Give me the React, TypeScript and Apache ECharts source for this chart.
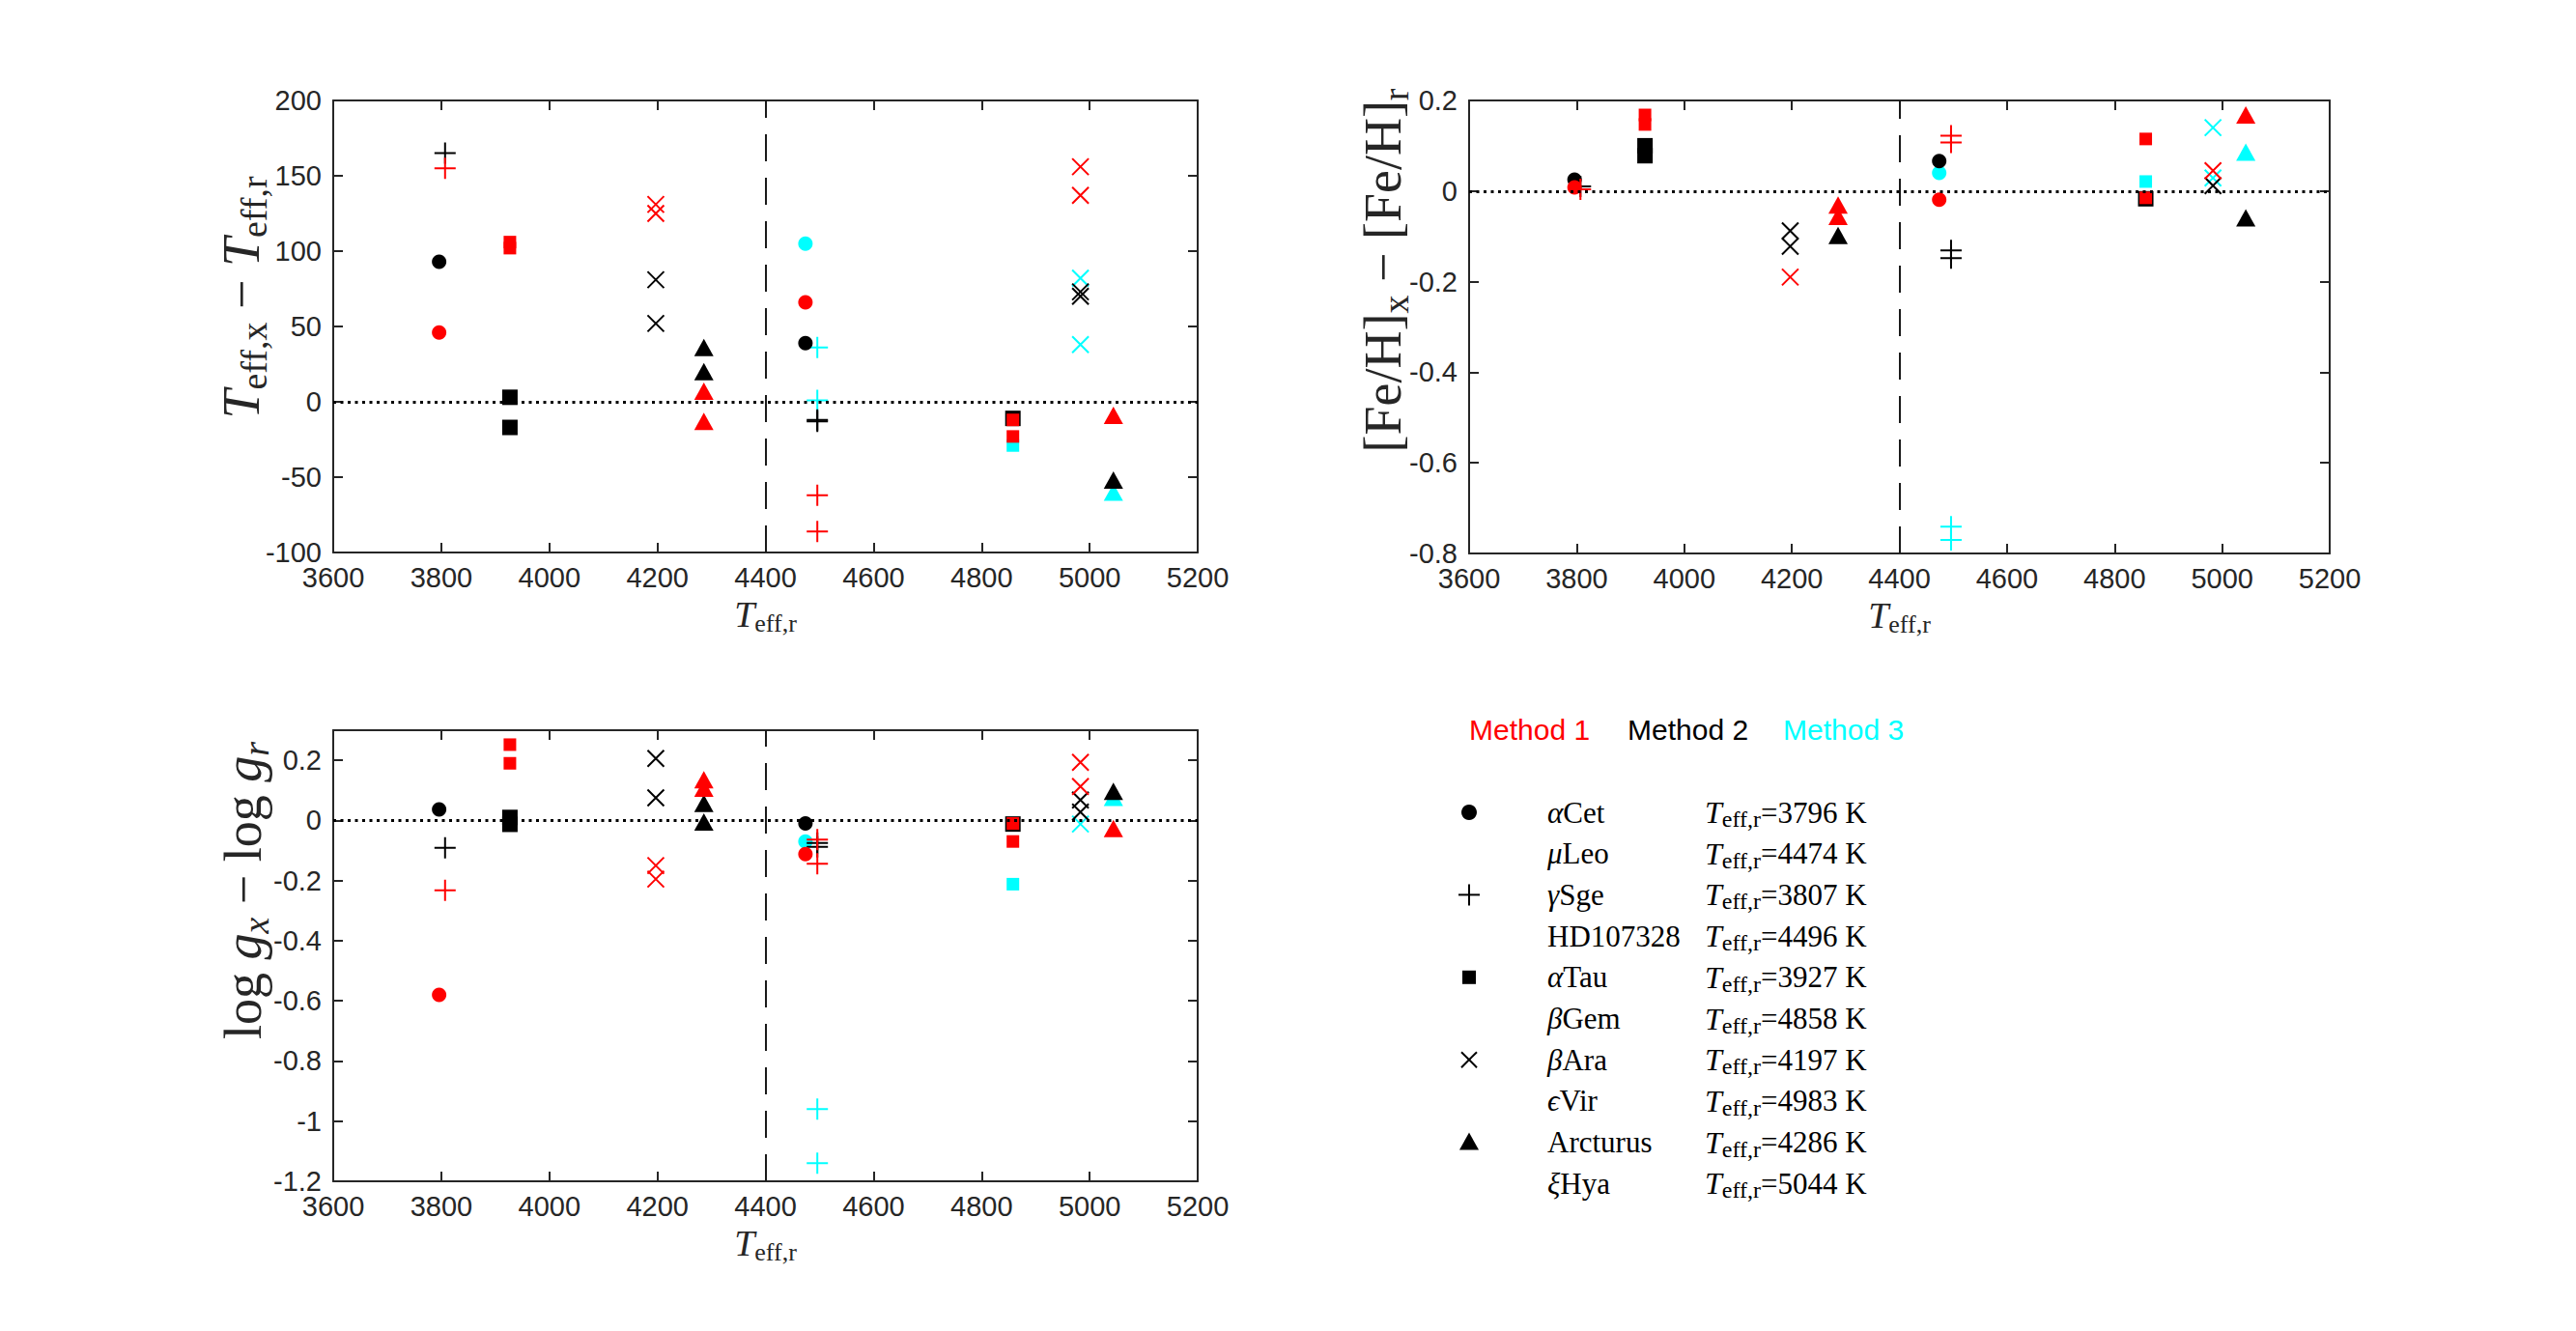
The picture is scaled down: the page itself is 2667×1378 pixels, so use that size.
import React, { useEffect, useRef } from 'react';
import * as echarts from 'echarts';

// ---------- data ----------
const starGreek = ['α', 'μ', 'γ', '', 'α', 'β', 'β', 'ϵ', '', 'ξ'];
const starBase = ['Cet', 'Leo', 'Sge', 'HD107328', 'Tau', 'Gem', 'Ara', 'Vir', 'Arcturus', 'Hya'];
const teffRef = [3796, 4474, 3807, 4496, 3927, 4858, 4197, 4983, 4286, 5044];
const starMarker = ['circle', 'circle', 'plus', 'plus', 'square', 'square', 'cross', 'cross', 'triangle', 'triangle'];

const methodNames = ['Method 1', 'Method 2', 'Method 3'];

const xMin = 3600;
const xMax = 5200;
const xStep = 200;
const teffSplit = 4400;

// Panel 1: Teff,x - Teff,r (per star, per method)
const dTeffM1 = [[46], [66], [155], [-62, -86], [106, 102], [-12, -23], [131, 125], [156, 137], [7, -13], [-9]];
const dTeffM2 = [[93], [39], [165], [-12, -13], [3, -17], [-11], [81, 52], [73, 70], [36, 20], [-52]];
const dTeffM3 = [[], [105], [], [36, 1], [], [-29], [], [82, 38], [], [-60]];

// Panel 2: [Fe/H]x - [Fe/H]r
const feM1 = [[0.008], [-0.019], [0.004], [0.122, 0.107], [0.168, 0.147], [0.115, -0.015], [-0.19], [0.045], [-0.031, -0.056], [0.168]];
const feM2 = [[0.025], [0.066], [0.01], [-0.131, -0.148], [0.1, 0.078], [-0.017], [-0.088, -0.122], [0.012], [-0.098], [-0.059]];
const feM3 = [[], [0.04], [], [-0.741, -0.77], [], [0.021], [], [0.14, 0.029], [], [0.086]];

// Panel 3: log gx - log gr
const loggM1 = [[-0.58], [-0.112], [-0.232], [-0.064, -0.144], [0.252, 0.19], [-0.01, -0.07], [-0.15, -0.195], [0.193, 0.113], [0.135, 0.107], [-0.027]];
const loggM2 = [[0.037], [-0.01], [-0.091], [-0.075, -0.088], [0.01, -0.013], [-0.012], [0.206, 0.075], [0.068, 0.028], [0.057, -0.005], [0.097]];
const loggM3 = [[], [-0.07], [], [-0.96, -1.14], [], [-0.212], [], [-0.012], [], [0.077]];

const panelValues = [
  [dTeffM1, dTeffM2, dTeffM3],
  [feM1, feM2, feM3],
  [loggM1, loggM2, loggM3],
];
const panelYRange = [
  [-100, 200, 50],
  [-0.8, 0.2, 0.2],
  [-1.2, 0.3, 0.2],
];

// ---------- style ----------
const methodColors = ['#ff0000', '#000000', '#00ffff'];
const drawOrder = [2, 1, 0];
const axisColor = '#262626';
const sans = "'Liberation Sans', Arial, Helvetica, sans-serif";
const serif = "'Liberation Serif', 'DejaVu Serif', 'Times New Roman', serif";

const grids = [
  { left: 345, top: 104, width: 895, height: 468 },
  { left: 1521, top: 104, width: 891, height: 469 },
  { left: 345, top: 756, width: 895, height: 467 },
];

const yTitles = [
  { text: '{i|T}{s|eff,x}{n| − }{i|T}{s|eff,r}', x: 250, y: 308 },
  { text: '{n|[Fe/H]}{s|x}{n| − [Fe/H]}{s|r}', x: 1432, y: 280 },
  { text: '{n|log }{i|g}{si|x}{n| − log }{i|g}{si|r}', x: 252, y: 922 },
];

const yTitleRich = {
  i: { fontFamily: serif, fontStyle: 'italic', fontSize: 54, fill: axisColor },
  n: { fontFamily: serif, fontSize: 54, fill: axisColor },
  s: { fontFamily: serif, fontSize: 38, padding: [26, 0, 0, 0], fill: axisColor },
  si: { fontFamily: serif, fontStyle: 'italic', fontSize: 38, padding: [26, 0, 0, 0], fill: axisColor },
};

function markerItem(shape: string, color: string, x: number, y: number) {
  switch (shape) {
    case 'circle':
      return { value: [x, y], symbol: 'circle', symbolSize: 15, itemStyle: { color, opacity: 1 } };
    case 'square':
      return { value: [x, y], symbol: 'rect', symbolSize: color === '#000000' ? 16 : 13, itemStyle: { color, opacity: 1 } };
    case 'triangle':
      return { value: [x, y], symbol: 'triangle', symbolSize: [20, 18], itemStyle: { color, opacity: 1 } };
    case 'plus':
      return {
        value: [x, y], symbol: 'path://M0,10L20,10M10,0L10,20', symbolSize: 22,
        itemStyle: { color: 'none', borderColor: color, borderWidth: 2, opacity: 1 },
      };
    default:
      return {
        value: [x, y], symbol: 'path://M0,0L20,20M20,0L0,20', symbolSize: 17,
        itemStyle: { color: 'none', borderColor: color, borderWidth: 2, opacity: 1 },
      };
  }
}

function fmt(v: number) {
  return String(Math.round(v * 1000) / 1000);
}

function buildOption() {
  const xAxis: any[] = [];
  const yAxis: any[] = [];
  const series: any[] = [];
  const common = {
    type: 'value',
    splitLine: { show: false },
    axisLine: { show: true, onZero: false, lineStyle: { color: axisColor, width: 2 } },
    axisTick: { show: true, inside: true, length: 10, lineStyle: { color: axisColor, width: 2 } },
  };
  grids.forEach((_, g) => {
    const [ymin, ymax, ystep] = panelYRange[g];
    xAxis.push({
      ...common, gridIndex: g, position: 'bottom', min: xMin, max: xMax, interval: xStep,
      axisLabel: { fontSize: 29, fontFamily: sans, color: axisColor, margin: 11, formatter: (v: number) => String(v) },
      name: '{i|T}{s|eff,r}', nameLocation: 'middle', nameGap: 42,
      nameTextStyle: {
        color: axisColor,
        rich: {
          i: { fontFamily: serif, fontStyle: 'italic', fontSize: 38, color: axisColor },
          s: { fontFamily: serif, fontSize: 26, padding: [18, 0, 0, 0], color: axisColor },
        },
      },
    });
    xAxis.push({
      ...common, gridIndex: g, position: 'top', min: xMin, max: xMax, interval: xStep,
      axisLabel: { show: false },
    });
    yAxis.push({
      ...common, gridIndex: g, position: 'left', min: ymin, max: ymax, interval: ystep,
      axisLabel: {
        fontSize: 29, fontFamily: sans, color: axisColor, margin: 12,
        formatter: fmt, showMaxLabel: g === 2 ? false : true,
      },
    });
    yAxis.push({
      ...common, gridIndex: g, position: 'right', min: ymin, max: ymax, interval: ystep,
      axisLabel: { show: false },
    });

    // reference lines
    series.push({
      type: 'scatter', xAxisIndex: 2 * g, yAxisIndex: 2 * g, data: [], z: 1, silent: true,
      markLine: {
        silent: true, symbol: 'none', animation: false, label: { show: false },
        data: [
          { xAxis: teffSplit, lineStyle: { color: '#1a1a1a', width: 2, type: [28, 17] } },
          { yAxis: 0, lineStyle: { color: '#000', width: 3, type: [3, 4.5] } },
        ],
      },
    });

    drawOrder.forEach((m) => {
      const vals = panelValues[g][m];
      const data: any[] = [];
      vals.forEach((list, s) => {
        list.forEach((v) => data.push(markerItem(starMarker[s], methodColors[m], teffRef[s], v)));
      });
      series.push({
        type: 'scatter', name: methodNames[m], xAxisIndex: 2 * g, yAxisIndex: 2 * g,
        data, z: 3, silent: true, itemStyle: { opacity: 1 },
      });
    });
  });

  // graphic: y titles + legend
  const graphic: any[] = [];
  yTitles.forEach((t) => {
    graphic.push({
      type: 'text', x: t.x, y: t.y, rotation: Math.PI / 2,
      style: { text: t.text, rich: yTitleRich, align: 'center', verticalAlign: 'middle', fill: axisColor },
    });
  });

  const methodX = [1521, 1685, 1846];
  methodNames.forEach((name, m) => {
    graphic.push({
      type: 'text', x: methodX[m], y: 755,
      style: { text: name, fontFamily: sans, fontSize: 30, fill: methodColors[m], align: 'left', verticalAlign: 'middle' },
    });
  });

  const rowY0 = 841;
  const rowStep = 42.7;
  const legRich = {
    g: { fontFamily: serif, fontStyle: 'italic', fontSize: 31, fill: '#000' },
    r: { fontFamily: serif, fontSize: 31, fill: '#000' },
    i: { fontFamily: serif, fontStyle: 'italic', fontSize: 32, fill: '#000' },
    s: { fontFamily: serif, fontSize: 24, padding: [14, 0, 0, 0], fill: '#000' },
  };
  starBase.forEach((base, k) => {
    const cy = rowY0 + k * rowStep;
    const cx = 1521;
    const shape = starMarker[k];
    if (k === 0 || starMarker[k - 1] !== shape) {
      if (shape === 'circle') {
        graphic.push({ type: 'circle', shape: { cx, cy, r: 8 }, style: { fill: '#000' } });
      } else if (shape === 'square') {
        graphic.push({ type: 'rect', shape: { x: cx - 7, y: cy - 7, width: 14, height: 14 }, style: { fill: '#000' } });
      } else if (shape === 'triangle') {
        graphic.push({ type: 'polygon', shape: { points: [[cx, cy - 10], [cx + 10, cy + 8], [cx - 10, cy + 8]] }, style: { fill: '#000' } });
      } else if (shape === 'plus') {
        graphic.push({ type: 'line', shape: { x1: cx - 11, y1: cy, x2: cx + 11, y2: cy }, style: { stroke: '#000', lineWidth: 2 } });
        graphic.push({ type: 'line', shape: { x1: cx, y1: cy - 11, x2: cx, y2: cy + 11 }, style: { stroke: '#000', lineWidth: 2 } });
      } else {
        graphic.push({ type: 'line', shape: { x1: cx - 8, y1: cy - 8, x2: cx + 8, y2: cy + 8 }, style: { stroke: '#000', lineWidth: 2 } });
        graphic.push({ type: 'line', shape: { x1: cx - 8, y1: cy + 8, x2: cx + 8, y2: cy - 8 }, style: { stroke: '#000', lineWidth: 2 } });
      }
    }
    const nameText = (starGreek[k] ? `{g|${starGreek[k]}}` : '') + `{r|${base}}`;
    graphic.push({
      type: 'text', x: 1602, y: cy,
      style: { text: nameText, rich: legRich, align: 'left', verticalAlign: 'middle' },
    });
    graphic.push({
      type: 'text', x: 1765, y: cy,
      style: { text: `{i|T}{s|eff,r}{r|=${teffRef[k]} K}`, rich: legRich, align: 'left', verticalAlign: 'middle' },
    });
  });

  return {
    animation: false,
    backgroundColor: '#ffffff',
    grid: grids.map((g) => ({ ...g, containLabel: false })),
    xAxis,
    yAxis,
    series,
    graphic,
  };
}

export default function App() {
  const ref = useRef<HTMLDivElement>(null);
  useEffect(() => {
    if (!ref.current) return;
    const chart = echarts.init(ref.current, undefined, { renderer: 'svg' });
    chart.setOption(buildOption() as any);
    return () => chart.dispose();
  }, []);
  return (
    <div
      ref={ref}
      style={{ position: 'absolute', left: 0, top: 0, width: 2667, height: 1378, background: '#fff' }}
    />
  );
}
